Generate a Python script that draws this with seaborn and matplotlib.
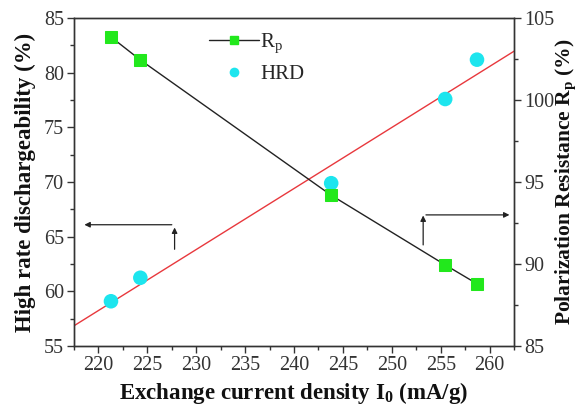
import numpy as np
import pandas as pd
import matplotlib
matplotlib.use('Agg')
import matplotlib.pyplot as plt
from matplotlib.lines import Line2D
from matplotlib.legend_handler import HandlerTuple
from matplotlib.ticker import MultipleLocator
import seaborn as sns

# values
current_density = [221.3, 224.3, 243.8, 255.45, 258.7]
hrd = [59.1, 61.25, 69.9, 77.6, 81.2]
rp = [103.85, 102.45, 94.2, 89.95, 88.8]

df = pd.DataFrame({'I0': current_density, 'HRD': hrd, 'Rp': rp})

sns.set_style('ticks')
plt.rcParams['font.family'] = ['Liberation Serif', 'DejaVu Serif']
plt.rcParams['mathtext.fontset'] = 'custom'
plt.rcParams['mathtext.rm'] = 'Liberation Serif'
plt.rcParams['mathtext.bf'] = 'Liberation Serif:bold'
plt.rcParams['xtick.direction'] = 'out'
plt.rcParams['ytick.direction'] = 'out'

fig = plt.figure(figsize=(5.81, 4.12), dpi=100)
ax = fig.add_axes([0.127, 0.160, 0.758, 0.796])
ax2 = ax.twinx()

ax.set_xlim(217.5, 262.5)
ax.set_ylim(55, 85)
ax2.set_ylim(85, 105)

# HRD points + linear fit (red)
sns.regplot(data=df, x='I0', y='HRD', ax=ax, scatter=False, ci=None, truncate=False,
            line_kws={'color': '#e8383d', 'lw': 1.0})
sns.scatterplot(data=df, x='I0', y='HRD', ax=ax, color='#1de5ee', s=110,
                edgecolor='none', zorder=3)

# Rp line with squares
sns.lineplot(data=df, x='I0', y='Rp', ax=ax2, color='#222222', lw=1.0,
             marker='s', markersize=9, markerfacecolor='#22e81c',
             markeredgecolor='#22e81c')

ax.set_xlim(217.5, 262.5)
ax.set_ylim(55, 85)
ax2.set_ylim(85, 105)

# arrows
akw = dict(arrowstyle='-|>', color='#222222', lw=0.9, mutation_scale=8)
ax.annotate('', xy=(227.8, 66.1), xytext=(227.8, 63.6), arrowprops=akw)
ax.annotate('', xy=(218.3, 66.1), xytext=(227.8, 66.1), arrowprops=akw)
ax.annotate('', xy=(253.2, 67.2), xytext=(253.2, 64.0), arrowprops=akw)
ax.annotate('', xy=(262.3, 67.0), xytext=(253.2, 67.0), arrowprops=akw)

ax.xaxis.set_major_locator(MultipleLocator(5))
ax.xaxis.set_minor_locator(MultipleLocator(2.5))
ax.yaxis.set_major_locator(MultipleLocator(5))
ax.yaxis.set_minor_locator(MultipleLocator(2.5))
ax2.yaxis.set_major_locator(MultipleLocator(5))
ax2.yaxis.set_minor_locator(MultipleLocator(2.5))

for a in (ax, ax2):
    a.tick_params(which='major', length=5, width=1, labelsize=14.5,
                  colors='#333333', labelcolor='#333333', pad=2)
    a.tick_params(which='minor', length=3, width=1, colors='#333333')
    for s in a.spines.values():
        s.set_visible(True)
        s.set_color('#333333')
        s.set_linewidth(1.0)

ax.set_xlabel(r'Exchange current density I$_\mathbf{0}$ (mA/g)', fontsize=16.5,
              fontweight='bold', labelpad=4, color='#111111')
ax.set_ylabel('High rate dischargeability (%)', fontsize=16.5, fontweight='bold',
              labelpad=6, color='#111111')
ax2.set_ylabel(r'Polarization Resistance R$_\mathbf{p}$ (%)', fontsize=15.5,
               fontweight='bold', labelpad=0, color='#111111')

rp_line = Line2D([], [], color='#222222', lw=1.0)
rp_mark = Line2D([], [], ls='none', marker='s', markersize=6,
                 markerfacecolor='#22e81c', markeredgecolor='#22e81c')
hrd_mark = Line2D([], [], ls='none', marker='o', markersize=7,
                  markerfacecolor='#1de5ee', markeredgecolor='none')
ax2.legend([(rp_line, rp_mark), hrd_mark], [r'R$_\mathrm{p}$', 'HRD'],
           handler_map={tuple: HandlerTuple(ndivide=1)}, loc='upper left',
           bbox_to_anchor=(0.265, 1.015), frameon=False, fontsize=15,
           handlelength=2.4, handletextpad=0.05, labelspacing=0.4)

fig.savefig('out.png', dpi=100)
